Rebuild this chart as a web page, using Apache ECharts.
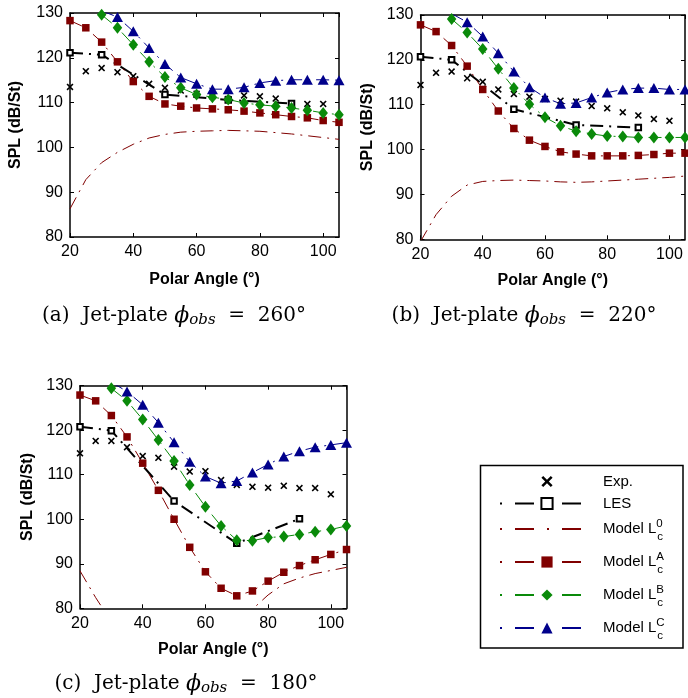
<!DOCTYPE html>
<html>
<head>
<meta charset="utf-8">
<script src="https://cdn.jsdelivr.net/npm/echarts@6/dist/echarts.min.js"></script>
<style>
  html, body { margin: 0; padding: 0; background: #fff; }
  #chart { width: 688px; height: 698px; }
</style>
</head>
<body>
<div id="chart"></div>
<script>
// Polar angles (deg) at which each data set is sampled
const angles = [20, 25, 30, 35, 40, 45, 50, 55, 60, 65, 70, 75, 80, 85, 90, 95, 100, 105];
const expAngles = [20, 25, 30, 35, 40, 45, 50, 55, 60, 65, 70, 75, 80, 85, 90, 95, 100];
const lesAngles = [20, 30, 50, 70, 90];
const bcAngles = [30, 35, 40, 45, 50, 55, 60, 65, 70, 75, 80, 85, 90, 95, 100, 105];

const xTicks = [20, 40, 60, 80, 100];
const yTicks = [80, 90, 100, 110, 120, 130];

// phi_obs = 260 deg
const exp260 = [113.5, 117.0, 117.7, 116.8, 115.9, 114.2, 113.3, 112.7, 112.0, 111.4, 110.8, 111.6, 111.4, 110.9, 109.8, 109.7, 109.7];
const les260 = [121.1, 120.7, 111.8, 110.6, 109.8];
const modelL0_260 = [86.3, 92.8, 96.6, 98.9, 100.7, 102.1, 102.9, 103.4, 103.6, 103.7, 103.8, 103.7, 103.6, 103.3, 103.0, 102.6, 102.2, 101.8];
const modelLA_260 = [128.3, 126.7, 123.5, 119.1, 114.7, 111.4, 109.7, 109.2, 108.8, 108.6, 108.4, 108.1, 107.7, 107.3, 106.9, 106.6, 106.0, 105.6];
const modelLB_260 = [129.6, 126.7, 122.9, 119.1, 115.7, 113.3, 111.8, 111.2, 110.7, 109.9, 109.5, 109.2, 108.8, 108.3, 107.7, 107.3];
const modelLC_260 = [130.5, 129.1, 125.9, 122.2, 118.6, 115.6, 114.2, 113.0, 113.0, 113.4, 114.4, 114.9, 115.1, 115.1, 115.1, 115.0];

// phi_obs = 220 deg
const exp220 = [114.4, 117.1, 117.4, 115.9, 115.1, 113.4, 112.4, 111.8, 111.3, 110.9, 110.7, 109.7, 109.2, 108.3, 107.6, 106.8, 106.4];
const les220 = [120.7, 120.0, 109.0, 105.5, 104.9];
const modelL0_220 = [79.5, 85.5, 89.6, 92.1, 92.9, 93.1, 93.2, 93.1, 93.0, 92.8, 92.7, 92.8, 93.0, 93.2, 93.4, 93.6, 93.8, 94.1];
const modelLA_220 = [127.8, 126.3, 123.2, 118.6, 113.4, 108.6, 104.7, 102.1, 100.7, 99.5, 99.0, 98.6, 98.6, 98.6, 98.7, 98.9, 99.2, 99.2];
const modelLB_220 = [129.1, 126.1, 122.4, 118.0, 113.7, 110.1, 107.2, 105.3, 104.1, 103.5, 103.0, 102.9, 102.7, 102.7, 102.7, 102.7];
const modelLC_220 = [130.3, 128.4, 125.2, 121.5, 117.4, 113.9, 111.6, 110.2, 110.4, 111.6, 112.7, 113.4, 113.7, 113.7, 113.4, 113.4];

// phi_obs = 180 deg
const exp180 = [114.8, 117.6, 117.6, 116.2, 114.2, 113.8, 111.8, 110.7, 110.8, 108.8, 107.7, 107.3, 107.1, 107.5, 107.0, 107.0, 105.6];
const les180 = [120.8, 119.9, 104.1, 94.6, 100.1];
const modelL0_180 = [88.4, 82.4, 77.0, 72.5, 69.0, 66.5, 65.0, 64.5, 65.5, 68.0, 72.0, 79.8, 83.0, 85.5, 86.8, 87.8, 88.5, 89.2];
const modelLA_180 = [127.9, 126.6, 123.3, 118.5, 112.6, 106.5, 100.0, 93.7, 88.2, 84.5, 82.8, 83.9, 86.1, 88.1, 89.6, 90.9, 92.1, 93.2];
const modelLB_180 = [129.4, 126.6, 122.4, 117.8, 113.1, 107.7, 102.8, 98.5, 95.3, 95.2, 95.9, 96.1, 96.6, 97.2, 97.7, 98.5];
const modelLC_180 = [130.8, 128.7, 125.7, 121.7, 117.3, 112.9, 109.6, 108.1, 108.6, 110.5, 112.3, 114.1, 115.3, 116.2, 116.7, 117.2];

const captions = ['(a)', '(b)', '(c)'];
const phiObs = ['260°', '220°', '180°'];

const SANS = '"Liberation Sans", Arial, Helvetica, sans-serif';
const SERIF = '"DejaVu Serif", "Liberation Serif", serif';
const RED = '#800000', GREEN = '#0a8a0a', BLUE = '#00008b';
const DASHDOT = [13, 6, 2, 6];
const CROSS = 'path://M0,1.6 L1.6,0 L5,3.4 L8.4,0 L10,1.6 L6.6,5 L10,8.4 L8.4,10 L5,6.6 L1.6,10 L0,8.4 L3.4,5 Z';

const panels = [
  { exp: exp260, les: les260, l0: modelL0_260, la: modelLA_260, lb: modelLB_260, lc: modelLC_260,
    grid: { left: 70, top: 13, width: 269, height: 224 }, yGap: 46, xGap: 35, caption: [174, 316] },
  { exp: exp220, les: les220, l0: modelL0_220, la: modelLA_220, lb: modelLB_220, lc: modelLC_220,
    grid: { left: 420.5, top: 15, width: 264.5, height: 224.3 }, yGap: 45, xGap: 33, caption: [524, 316] },
  { exp: exp180, les: les180, l0: modelL0_180, la: modelLA_180, lb: modelLB_180, lc: modelLC_180,
    grid: { left: 80, top: 385.7, width: 266.5, height: 222.6 }, yGap: 44, xGap: 33, caption: [186, 684] }
];

const pairs = (xs, ys) => xs.map((x, i) => [x, ys[i]]);

const grids = [], xAxes = [], yAxes = [], series = [];

panels.forEach((p, g) => {
  grids.push(Object.assign({ containLabel: false, outerBoundsMode: 'none' }, p.grid));
  const axisLine = { show: true, onZero: false, lineStyle: { color: '#000', width: 1.5 } };
  const axisTick = { show: true, inside: true, length: 4, lineStyle: { color: '#000', width: 1 } };
  xAxes.push({
    gridIndex: g, type: 'value', min: 20, max: 105, interval: 20, position: 'bottom',
    axisLine, axisTick, splitLine: { show: false },
    axisLabel: { color: '#000', fontFamily: SANS, fontSize: 16, margin: 7, showMaxLabel: false },
    name: 'Polar Angle (°)', nameLocation: 'middle', nameGap: p.xGap,
    nameTextStyle: { color: '#000', fontFamily: SANS, fontSize: 16, fontWeight: 'bold' }
  });
  xAxes.push({
    gridIndex: g, type: 'value', min: 20, max: 105, interval: 20, position: 'top',
    axisLine, axisTick, splitLine: { show: false }, axisLabel: { show: false }
  });
  yAxes.push({
    gridIndex: g, type: 'value', min: 80, max: 130, interval: 10, position: 'left',
    axisLine, axisTick, splitLine: { show: false },
    axisLabel: { color: '#000', fontFamily: SANS, fontSize: 16, margin: 7 },
    name: 'SPL (dB/St)', nameLocation: 'middle', nameGap: p.yGap,
    nameTextStyle: { color: '#000', fontFamily: SANS, fontSize: 16, fontWeight: 'bold' }
  });
  yAxes.push({
    gridIndex: g, type: 'value', min: 80, max: 130, interval: 10, position: 'right',
    axisLine, axisTick, splitLine: { show: false }, axisLabel: { show: false }
  });

  const ax = { xAxisIndex: 2 * g, yAxisIndex: 2 * g, type: 'line', clip: true, animation: false };
  series.push(Object.assign({}, ax, {
    name: 'Exp.', data: pairs(expAngles, p.exp),
    symbol: CROSS, symbolSize: 7, itemStyle: { color: '#000' },
    lineStyle: { width: 0, opacity: 0 }
  }));
  series.push(Object.assign({}, ax, {
    name: 'LES', data: pairs(lesAngles, p.les),
    symbol: 'emptyRect', symbolSize: 5.5,
    itemStyle: { color: '#000', borderColor: '#000', borderWidth: 2 },
    lineStyle: { color: '#000', width: 2, type: DASHDOT }
  }));
  series.push(Object.assign({}, ax, {
    name: 'Model L0', data: pairs(angles, p.l0), symbol: 'none',
    itemStyle: { color: RED },
    lineStyle: { color: RED, width: 1, type: DASHDOT }
  }));
  series.push(Object.assign({}, ax, {
    name: 'Model LA', data: pairs(angles, p.la),
    symbol: 'rect', symbolSize: 7.5, itemStyle: { color: RED },
    lineStyle: { color: RED, width: 1, type: DASHDOT }
  }));
  series.push(Object.assign({}, ax, {
    name: 'Model LB', data: pairs(bcAngles, p.lb),
    symbol: 'diamond', symbolSize: [9.5, 12], itemStyle: { color: GREEN },
    lineStyle: { color: GREEN, width: 1, type: DASHDOT }
  }));
  series.push(Object.assign({}, ax, {
    name: 'Model LC', data: pairs(bcAngles, p.lc),
    symbol: 'triangle', symbolSize: [11, 10], itemStyle: { color: BLUE },
    lineStyle: { color: BLUE, width: 1, type: DASHDOT }
  }));
});

const supOf = { 'Model L0': '0', 'Model LA': 'A', 'Model LB': 'B', 'Model LC': 'C' };

const captionRich = {
  r: { fontFamily: SERIF, fontSize: 20, lineHeight: 24, color: '#000' },
  p: { fontFamily: SERIF, fontStyle: 'italic', fontSize: 22, lineHeight: 24, color: '#000' },
  s: { fontFamily: SERIF, fontStyle: 'italic', fontSize: 15, lineHeight: 13, verticalAlign: 'bottom', color: '#000' }
};

const graphic = [
  { type: 'rect', z: 1, shape: { x: 480.5, y: 465.5, width: 202.5, height: 182.5 },
    style: { fill: '#fff', stroke: '#000', lineWidth: 1.5 } }
];
panels.forEach((p, g) => {
  graphic.push({
    type: 'text', z: 5, x: p.caption[0], y: p.caption[1],
    style: {
      text: '{r|' + captions[g] + '  Jet-plate }{p|\u03D5}{s|obs}{r|  =  ' + phiObs[g] + '}',
      rich: captionRich, align: 'center', verticalAlign: 'middle', fill: '#000'
    }
  });
});

const legendCommon = {
  z: 10, orient: 'vertical', left: 499, padding: 0,
  itemWidth: 94, itemHeight: 14, selectedMode: false,
  lineStyle: { type: [19, 13, 2, 13], dashOffset: 32 }
};

const chart = echarts.init(document.getElementById('chart'), null, { renderer: 'canvas' });
chart.setOption({
  animation: false,
  backgroundColor: '#fff',
  grid: grids,
  xAxis: xAxes,
  yAxis: yAxes,
  series: series,
  graphic: graphic,
  legend: [
    Object.assign({}, legendCommon, {
      top: 474, itemGap: 7,
      data: ['Exp.', 'LES'],
      textStyle: { color: '#000', fontFamily: SANS, fontSize: 15, padding: [0, 0, 0, 4] }
    }),
    Object.assign({}, legendCommon, {
      top: 513, itemGap: 1,
      data: [
        { name: 'Model L0', itemStyle: { opacity: 0 } },
        { name: 'Model LA' }, { name: 'Model LB' }, { name: 'Model LC' }
      ],
      formatter: function (name) {
        return '{n|Model L}{u|' + supOf[name] + '}{d|c}';
      },
      textStyle: {
        color: '#000', fontFamily: SANS, fontSize: 15,
        rich: {
          n: { fontFamily: SANS, fontSize: 15, lineHeight: 32, padding: [0, 0, 0, 4], color: '#000' },
          u: { fontFamily: SANS, fontSize: 11.5, lineHeight: 24, height: 21, verticalAlign: 'top', width: 1, align: 'left', color: '#000' },
          d: { fontFamily: SANS, fontSize: 11.5, lineHeight: 26, height: 16, verticalAlign: 'bottom', color: '#000' }
        }
      }
    })
  ]
});
</script>
</body>
</html>
